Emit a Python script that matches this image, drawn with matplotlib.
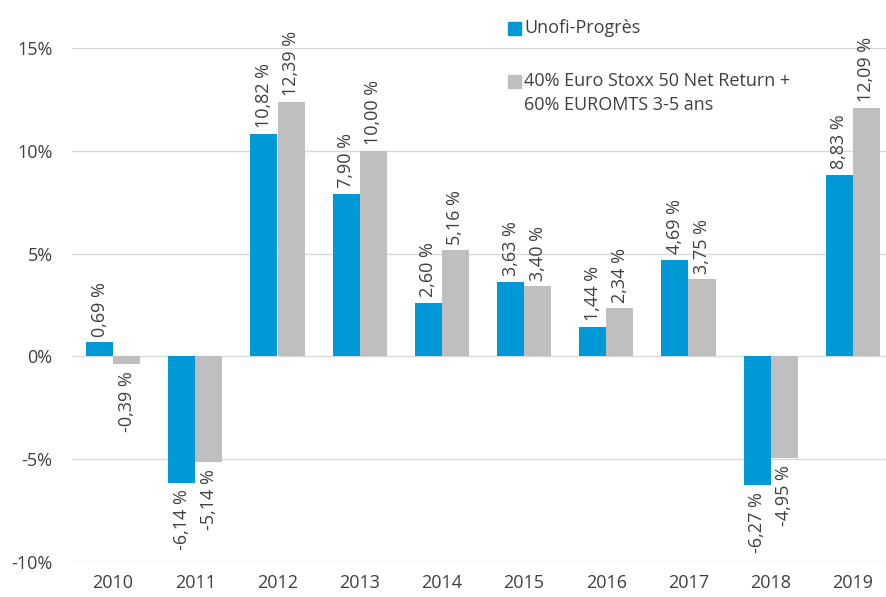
import numpy as np
import matplotlib
matplotlib.use("Agg")
from matplotlib import pyplot as plt
from matplotlib.patches import Rectangle

years = ["2010", "2011", "2012", "2013", "2014", "2015", "2016", "2017", "2018", "2019"]
unofi = [0.69, -6.14, 10.82, 7.90, 2.60, 3.63, 1.44, 4.69, -6.27, 8.83]
bench = [-0.39, -5.14, 12.39, 10.00, 5.16, 3.40, 2.34, 3.75, -4.95, 12.09]

label_unofi = "Unofi-Progrès"
label_bench = "40% Euro Stoxx 50 Net Return +\n60% EUROMTS 3-5 ans"

BLUE = "#0098D6"
GREY = "#BFBFBF"
TEXT = "#404040"

plt.rcParams['font.family'] = ['Open Sans', 'DejaVu Sans']
plt.rcParams['font.size'] = 13

W, H = 886, 597
fig = plt.figure(figsize=(W / 100, H / 100), dpi=100)
ax = fig.add_axes([72 / W, 1 - 562 / H, 822 / W, 514 / H])

x = np.arange(len(years))
bw = 0.33
bars_a = ax.bar(x - bw / 2, unofi, width=bw, color=BLUE, zorder=3)
bars_b = ax.bar(x + bw / 2, bench, width=bw, color=GREY, zorder=3)


def fmt(v):
    return ("%.2f" % v).replace(".", ",") + " %"


for bars, vals in ((bars_a, unofi), (bars_b, bench)):
    for b, v in zip(bars, vals):
        cx = b.get_x() + b.get_width() / 2
        if v >= 0:
            ax.annotate(fmt(v), (cx, v), xytext=(0, 4), textcoords="offset points",
                        rotation=90, ha="center", va="bottom", color=TEXT,
                        fontsize=13, annotation_clip=False)
        else:
            ax.annotate(fmt(v), (cx, v), xytext=(0, -5), textcoords="offset points",
                        rotation=90, ha="center", va="top", color=TEXT,
                        fontsize=13, annotation_clip=False)

ax.set_xlim(-0.5, 9.5)
ax.set_ylim(-10, 15)
ax.set_yticks([-10, -5, 0, 5, 10, 15])
ax.set_yticklabels(["-10%", "-5%", "0%", "5%", "10%", "15%"])
ax.set_xticks(x)
ax.set_xticklabels(years)
ax.tick_params(axis="both", length=0, colors=TEXT, labelsize=13)
ax.tick_params(axis="y", pad=14)
ax.tick_params(axis="x", pad=9)
ax.yaxis.grid(True, color="#D9D9D9", linewidth=1, zorder=0)
ax.set_axisbelow(True)
for s in ax.spines.values():
    s.set_visible(False)

# legend drawn by hand to keep the square on the first line
def fx(px):
    return px / W


def fy(py):
    return 1 - py / H


fig.patches.append(Rectangle((fx(508), fy(35)), 13 / W, 13 / H, color=BLUE,
                             transform=fig.transFigure, figure=fig))
fig.text(fx(524), fy(28), label_unofi, color=TEXT, fontsize=13, va="center", ha="left")
fig.patches.append(Rectangle((fx(508), fy(88)), 13 / W, 13 / H, color=GREY,
                             transform=fig.transFigure, figure=fig))
fig.text(fx(524), fy(72), label_bench, color=TEXT, fontsize=13, va="top", ha="left",
         linespacing=1.45)

fig.savefig("out.png", dpi=100)
